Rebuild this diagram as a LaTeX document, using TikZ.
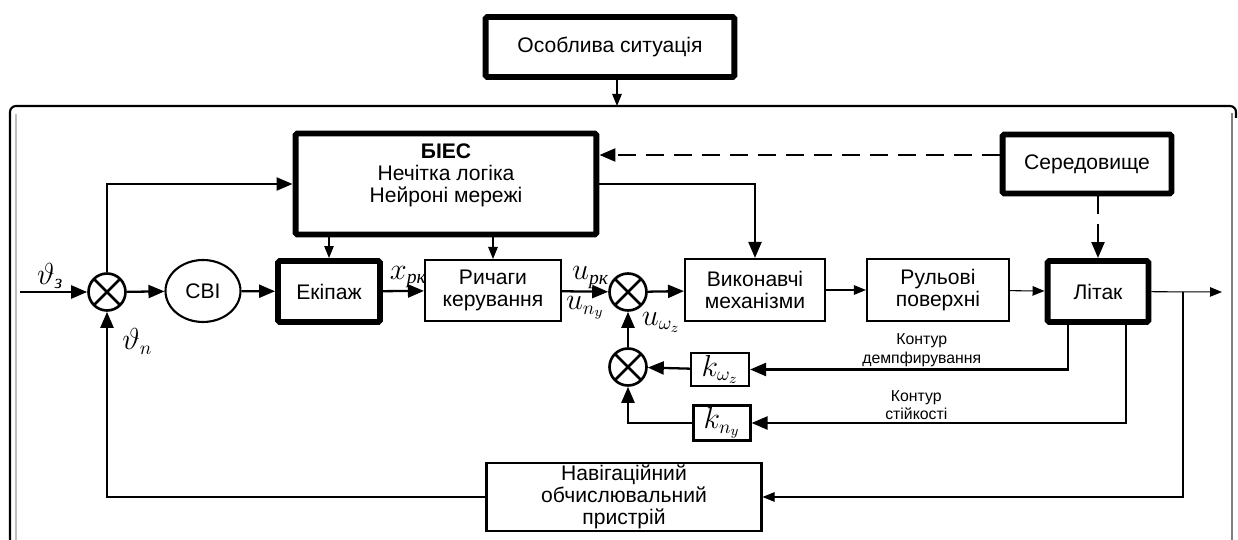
\documentclass[tikz,border=0pt]{standalone}
\usepackage{amsmath}
\usepackage{fontspec}
\setmainfont{Liberation Sans}
\newfontfamily\serifcyr{Liberation Serif}
\usetikzlibrary{arrows.meta,positioning,calc,shapes.geometric}
\newcommand{\cyrit}[1]{\text{\serifcyr\itshape #1}}

\begin{document}
\begin{tikzpicture}[x=0.02cm, y=-0.02cm,
  every node/.style={font=\fontsize{12}{13}\selectfont},
  boxthick/.style={draw, line width=3.4pt, rounded corners=1pt, align=center, inner sep=1pt},
  boxnorm/.style={draw, line width=1.2pt, align=center, inner sep=1pt},
  sumnode/.style={circle, draw, line width=1.5pt, minimum size=0.74cm, inner sep=0pt,
    path picture={\draw[line width=1.5pt] (path picture bounding box.north west) -- (path picture bounding box.south east)
      (path picture bounding box.north east) -- (path picture bounding box.south west);}},
  sig/.style={font=\fontsize{16}{18}\selectfont, inner sep=1pt},
  note/.style={font=\fontsize{9}{10.5}\selectfont, align=center, inner sep=1pt},
  link/.style={-{Triangle[length=0.32cm,width=0.26cm]}, line width=1.3pt},
  linkthin/.style={-{Triangle[length=0.24cm,width=0.19cm]}, line width=0.6pt},
  dashlink/.style={link, dash pattern=on 0.36cm off 0.2cm}]
\useasboundingbox (0,0) rectangle (1238,540);
% frame
\draw[line width=1.2pt, rounded corners=0.12cm] (10,540) -- (10,106) -- (1236,106) -- (1236,118);
\draw[gray!50, line width=0.8pt] (16,114) -- (16,540);
\draw[gray, line width=1.4pt] (1232,113) -- (1232,540);
\coordinate (frm) at (617,106);
% blocks
\node[boxthick, minimum width=4.98cm, minimum height=1.2cm] (sit) at (610,47) {Особлива ситуація};
\node[boxthick, minimum width=6.02cm, minimum height=2.02cm, font=\fontsize{12}{12.4}\selectfont] (bies) at (446,184) {\textbf{БІЕС}\\Нечітка логіка\\Нейроні мережі\\ \mbox{}};
\node[boxthick, minimum width=3.38cm, minimum height=1.18cm] (sered) at (1087,164) {Середовище};
\node[sumnode] (sum1) at (107,292) {};
\node[ellipse, draw, line width=1.2pt, minimum width=1.5cm, minimum height=1.24cm, inner sep=0pt] (svi) at (203,291) {СВІ};
\node[boxthick, minimum width=2.04cm, minimum height=1.22cm] (ekipazh) at (329,291.5) {Екіпаж};
\node[boxnorm, minimum width=2.72cm, minimum height=1.22cm] (rychagy) at (493,290.5) {Ричаги\\керування};
\node[sumnode] (sum2) at (628,292) {};
\node[boxnorm, minimum width=2.8cm, minimum height=1.24cm] (vykon) at (755,290) {Виконавчі\\механізми};
\node[boxnorm, minimum width=2.84cm, minimum height=1.24cm] (rulovi) at (938,290) {Рульові\\поверхні};
\node[boxthick, minimum width=2.02cm, minimum height=1.22cm] (litak) at (1098,291.5) {Літак};
\node[sumnode] (sum3) at (628,367) {};
\node[boxnorm, sig, minimum width=1.16cm, minimum height=0.66cm] (kw) at (720,369.5) {$k_{\omega_z}$};
\node[boxnorm, sig, minimum width=1.14cm, minimum height=0.7cm] (kn) at (722,423) {$k_{n_y}$};
\node[boxnorm, minimum width=5.5cm, minimum height=1.22cm, font=\fontsize{12}{12.6}\selectfont] (nav) at (624,497) {Навігаційний\\обчислювальний\\пристрій};
\coordinate (inp) at (20,292);
\coordinate (br) at (1183,292);
\coordinate (out) at (1222,292);
% connectors
\draw[linkthin] (sit.south -| frm) -- (frm);
\draw[link] (inp) -- node[sig, above, pos=0.45] {$\vartheta_{\cyrit{з}}$} (sum1);
\draw[link] (sum1) -- (svi);
\draw[link] (svi) -- (ekipazh);
\draw[link] (ekipazh) -- node[sig, above, pos=0.62] {$x_{\cyrit{рк}}$} (rychagy);
\draw[link] (rychagy) -- node[sig, above, pos=0.62] {$u_{\cyrit{рк}}$} node[sig, below, pos=0.5, yshift=-0.04cm] {$u_{n_y}$} (sum2);
\draw[link] (sum2) -- (vykon);
\draw[linkthin] (vykon) -- (rulovi);
\draw[linkthin] (rulovi) -- (litak);
\draw[linkthin] (litak) -- (out);
\draw[linkthin] (br) |- (nav.east);
\draw[link] (nav.west) -| node[sig, right, pos=0.92, xshift=0.25cm] {$\vartheta_n$} (sum1.south);
\draw[link] (sum1.north) |- (bies.west);
\draw[link] (bies.east) -| (vykon.north);
\draw[linkthin] (bies.south -| ekipazh.north) -- (ekipazh.north);
\draw[linkthin] (bies.south -| rychagy.north) -- (rychagy.north);
\draw[dashlink] ([yshift=0.18cm]sered.west) -- ([yshift=0.18cm]sered.west -| bies.east);
\draw[dashlink] (sered.south -| litak.north) -- (litak.north);
\draw[link] (sum3) -- node[sig, right, pos=0.7, xshift=0.22cm] {$u_{\omega_z}$} (sum2);
\draw[link] (kw) -- (sum3);
\draw[link] (kn.west) -| (sum3.south);
\draw[link] ([xshift=-0.6cm]litak.south) |- node[note, above, pos=0.73] {Контур\\демпфирування} (kw.east);
\draw[link] ([xshift=0.56cm]litak.south) |- node[note, above, pos=0.78] {Контур\\стійкості} (kn.east);
\end{tikzpicture}
\end{document}
